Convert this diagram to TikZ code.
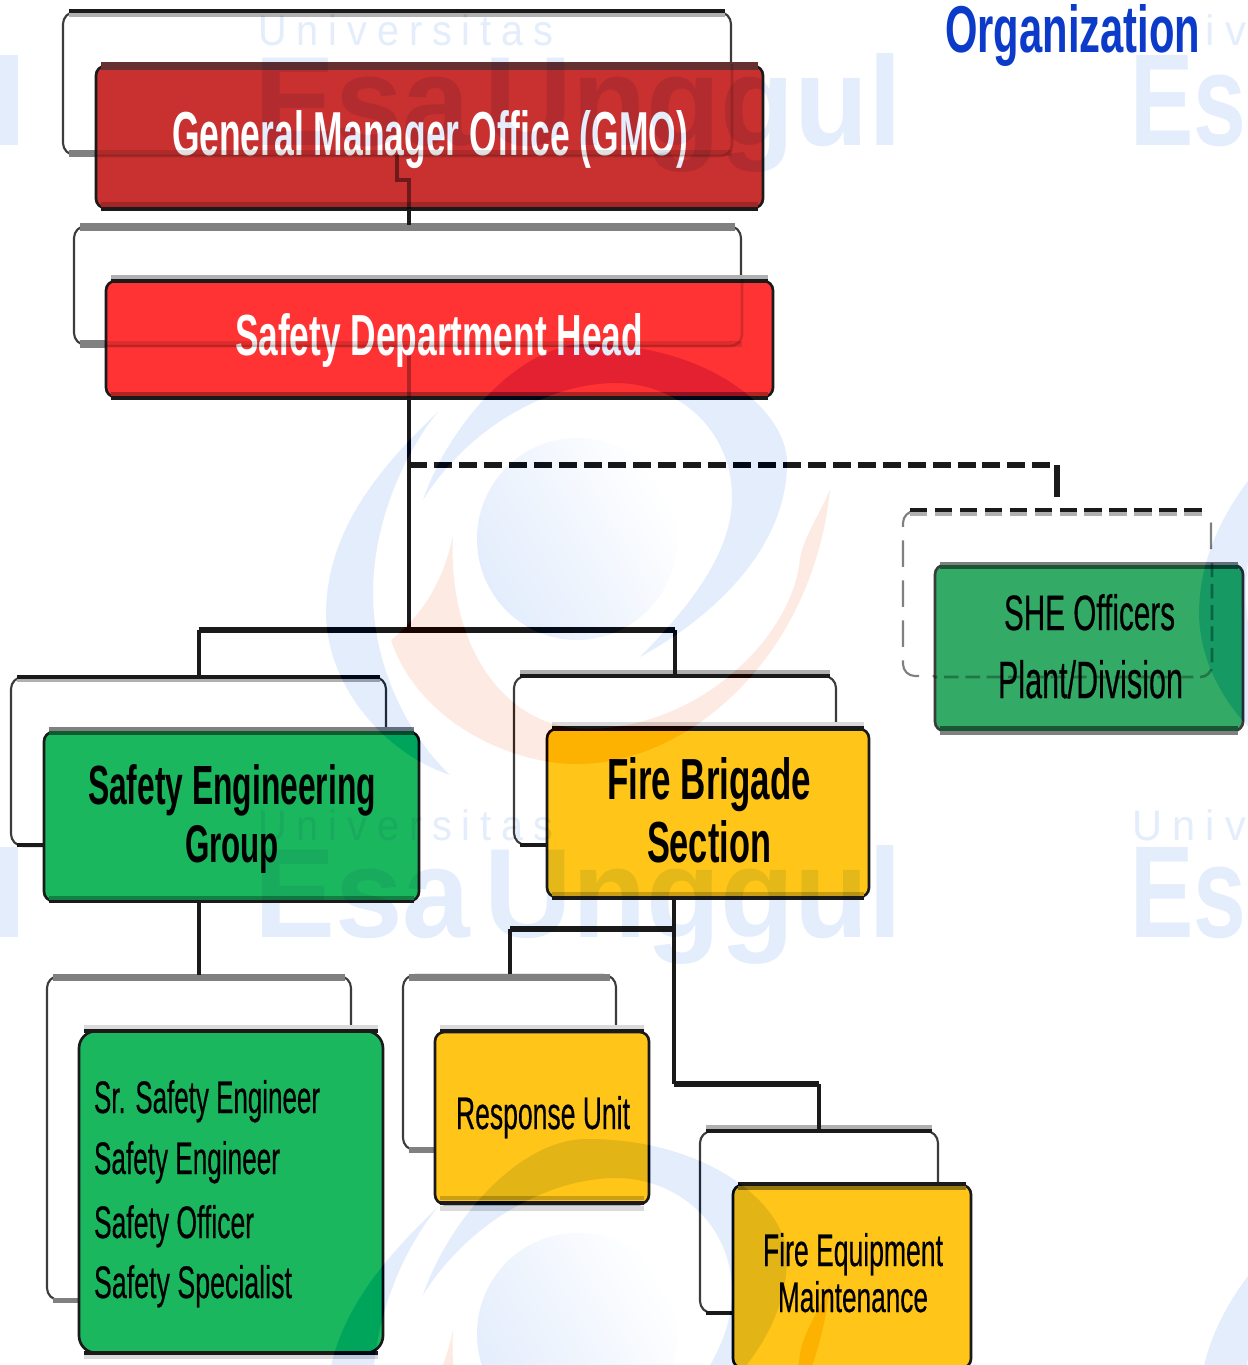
\documentclass[tikz,border=0pt]{standalone}
\usepackage{fontspec}
\usepackage{graphicx}
\setmainfont{Liberation Sans}
\newfontfamily\wmfont[LetterSpace=25]{Liberation Sans}
\newfontfamily\wmheavy{Liberation Sans Bold}
\newfontfamily\semib[FakeBold=0.5]{Liberation Sans}
\newlength\pxu \setlength\pxu{0.75pt}
\newcommand\tx[3]{\resizebox{#1\pxu}{#2\pxu}{#3}}
\newcommand\lbl[5]{\rlap{\hspace*{#1\pxu}\raisebox{-#2\pxu}[0pt][0pt]{\tx{#3}{#4}{#5}}}}
\definecolor{inkc}{HTML}{1A1A1A}
\definecolor{midgray}{HTML}{808080}
\definecolor{softgray}{HTML}{B0B0B0}
\definecolor{palegray}{HTML}{DADADA}
\definecolor{wmblue}{HTML}{E3EDFC}
\definecolor{wmorange}{HTML}{FDEAE2}
\definecolor{gmored}{HTML}{C93030}
\definecolor{gmotop}{HTML}{663030}
\definecolor{headred}{HTML}{FF3333}
\definecolor{grpgreen}{HTML}{1BB75F}
\definecolor{sheGreen}{HTML}{33AB66}
\definecolor{amber}{HTML}{FFC619}
\definecolor{titleblue}{HTML}{0B3BC8}
\tikzset{
  sized/.style 2 args={minimum width=#1*\pxu, minimum height=#2*\pxu},
  framebox/.style={draw=inkc!85!white, line width=1.6pt, rounded corners=9pt, fill=white, inner sep=0pt, rectangle},
  dashframe/.style={framebox, draw=midgray, dash pattern=on 20pt off 10pt},
  orgbox/.style={draw=inkc, line width=2pt, rounded corners=7pt, inner sep=0pt, rectangle},
  wire/.style={draw=inkc, line width=3pt, line cap=butt},
  busline/.style={draw=inkc, line width=4.6pt},
  dashwire/.style={draw=inkc, line width=4.6pt, dash pattern=on 13.5pt off 5.2pt},
  ghost/.style={draw=black, line width=2pt, rounded corners=9pt, opacity=.16},
  wmtext/.style={inner sep=0pt, anchor=base west, text=wmblue},
}
% a horizontal band along a named node, at height y
\newcommand\band[4]{%
  \draw[draw=#4, line width=#3*\pxu, shorten >=5pt, shorten <=5pt] (#1.west |- 0,#2) -- (#1.east |- 0,#2);}
\newcommand\wmlogo[3]{%
  \begin{scope}[shift={(#2,#3)}]
    \fill[wmblue] (-154,-39) .. controls (-130,-110) and (-60,-195) .. (10,-195)
      .. controls (130,-195) and (210,-130) .. (210,-76)
      .. controls (210,0) and (150,70) .. (63,118)
      .. controls (120,60) and (155,10) .. (155,-42)
      .. controls (155,-110) and (100,-156) .. (39,-156)
      .. controls (-30,-156) and (-110,-110) .. (-154,-39) -- cycle;
    \fill[wmblue] (-139,-127) .. controls (-210,-60) and (-250,0) .. (-251,74)
      .. controls (-250,150) and (-190,215) .. (-127,236)
      .. controls (-175,190) and (-204,120) .. (-204,54)
      .. controls (-204,-20) and (-170,-90) .. (-139,-127) -- cycle;
    \fill[wmorange] (-124,-4) .. controls (-135,50) and (-160,80) .. (-186,101)
      .. controls (-160,180) and (-70,225) .. (0,225)
      .. controls (110,225) and (235,120) .. (253,-49)
      .. controls (240,-20) and (226,0) .. (223,20)
      .. controls (215,100) and (120,190) .. (10,190)
      .. controls (-70,190) and (-130,110) .. (-124,-4) -- cycle;
    \shade[shading=axis, left color=wmblue, right color=white, shading angle=120]
      (0,0) ellipse (100 and 101);
  \end{scope}}
\newcommand\wmarks{%
  \fill[wmblue] (0,55) rectangle (18,145);
  \fill[wmblue] (0,847) rectangle (18,937);
  \wmlogo{1}{577}{539}
  \wmlogo{2}{577}{1334}
  \wmlogo{3}{1450}{539}
  \wmlogo{4}{1450}{1334}}
\begin{document}
\begin{tikzpicture}[x=0.75pt,y=-0.75pt]
\useasboundingbox (0,0) rectangle (1248,1365);
\fill[white] (0,0) rectangle (1248,1365);

% frames
\node[framebox, sized={668}{143}] (f1) at (397,83.5) {};
\node[framebox, sized={667}{119}] (f2) at (407.5,285.5) {};
\node[framebox, sized={375}{169}] (f3) at (198.5,761.5) {};
\node[framebox, sized={322}{169}] (f4) at (675,760.5) {};
\node[framebox, sized={304}{324}] (f5) at (199,1138) {};
\node[framebox, sized={213}{175}] (f6) at (509.5,1062.5) {};
\node[framebox, sized={238}{182}] (f7) at (819,1222) {};
\node[dashframe, sized={308}{165}] (f8) at (1057,593.5) {};
\band{f1}{15}{4}{softgray}\band{f1}{11}{3.5}{inkc}\band{f1}{153}{7}{midgray}
\band{f2}{227}{8}{midgray}\band{f2}{344}{8}{midgray}
\band{f3}{680}{4}{softgray}\band{f3}{677}{3.5}{inkc}\band{f3}{845}{3.5}{inkc}
\band{f4}{672}{4}{softgray}\band{f4}{676}{4}{inkc}\band{f4}{845}{3.5}{inkc}
\band{f5}{977}{7}{midgray}\band{f5}{1300}{5}{midgray}
\band{f6}{977}{7}{midgray}\band{f6}{1150}{6}{midgray}
\band{f7}{1127}{4}{softgray}\band{f7}{1131}{4}{inkc}\band{f7}{1313}{3.5}{inkc}
\draw[white, line width=5pt, shorten >=6pt, shorten <=6pt] (f8.north west) -- (f8.north east);
\draw[softgray, line width=5*\pxu, dash pattern=on 13pt off 5.7pt, shorten >=6pt, shorten <=6pt] ([yshift=-3pt]f8.north west) -- ([yshift=-3pt]f8.north east);
\draw[inkc, line width=4*\pxu, dash pattern=on 13pt off 5.7pt, shorten >=6pt, shorten <=6pt] (f8.north west) -- (f8.north east);

% connector points
\coordinate (j1) at (409,630);
\coordinate (j2) at (409,465);
\coordinate (d1) at (1057,497);
\coordinate (j3) at (674,929);
\coordinate (j4) at (674,1084);
\coordinate (s1) at (409,180);
\coordinate (s2) at (397,180);
\coordinate (s3) at (397,155);
\coordinate (s4) at (409,355);

% boxes
\node[orgbox, fill=gmored, sized={667}{142}, font=\bfseries, text=white] (b1) at (429.5,137)
  {\lbl{-257.5}{18}{516}{45}{General Manager Office (GMO)}};
\node[orgbox, fill=headred, sized={667}{116}, font=\bfseries, text=white] (b2) at (439.5,339)
  {\lbl{-204.5}{16}{408}{42}{Safety Department Head}};
\node[orgbox, fill=grpgreen, sized={375}{169}, font=\bfseries, text=black] (b3) at (231.5,816.5)
  {\lbl{-143.5}{-12.5}{288}{40}{Safety Engineering}\lbl{-46.5}{45.5}{94}{37}{Group}};
\node[orgbox, fill=amber, sized={322}{168}, font=\bfseries, text=black] (b4) at (708,813)
  {\lbl{-101}{-14}{204}{42}{Fire Brigade}\lbl{-61}{49}{124}{42}{Section}};
\node[orgbox, fill=grpgreen, sized={304}{322}, rounded corners=13pt, font=\semib, text=black] (b5) at (231,1192)
  {\lbl{-137}{-79}{226}{33}{Sr. Safety Engineer}\lbl{-137}{-18}{186}{33}{Safety Engineer}\lbl{-137}{46}{160}{33}{Safety Officer}\lbl{-137}{106}{198}{33}{Safety Specialist}};
\node[orgbox, fill=amber, sized={214}{172}, font=\semib, text=black] (b6) at (542,1118)
  {\lbl{-86}{11}{174}{33}{Response Unit}};
\node[orgbox, fill=amber, sized={238}{183}, font=\semib, text=black] (b7) at (852,1276.5)
  {\lbl{-89}{-10.5}{180}{33}{Fire Equipment}\lbl{-74}{35.5}{150}{31}{Maintenance}};
\node[orgbox, fill=sheGreen, draw=inkc!85!white, sized={308}{166}, font=\semib, text=black] (b8) at (1089,648)
  {\lbl{-85}{-18}{171}{36}{SHE Officers}\lbl{-91}{50}{185}{38}{Plant/Division}};

% box edges
\band{b1}{66}{8}{gmotop}\band{b1}{204.5}{5}{gmored!80!black}\band{b1}{209}{4}{inkc}
\band{b2}{277}{4}{softgray}\band{b2}{281}{4}{inkc}\band{b2}{393.5}{4}{headred!70!black}\band{b2}{398}{4}{inkc}
\band{b3}{729}{4}{midgray}\band{b3}{733}{4}{grpgreen!50!black}\band{b3}{898}{4}{grpgreen!70!black}\band{b3}{901.5}{3.5}{inkc}
\band{b4}{724}{4}{palegray}\band{b4}{728.5}{5}{inkc}\band{b4}{894}{4}{amber!80!black}\band{b4}{898}{4}{inkc}
\band{b5}{1027}{4}{palegray}\band{b5}{1031}{4}{inkc}\band{b5}{1353}{4}{inkc}\band{b5}{1357}{3.5}{palegray}
\band{b6}{1027}{4}{palegray}\band{b6}{1031}{4}{inkc}\band{b6}{1198}{3.5}{amber!80!black}\band{b6}{1203}{4}{inkc}\band{b6}{1208}{5}{palegray}
\band{b7}{1184}{4}{inkc}\band{b7}{1188}{4}{amber!60!black}
\band{b8}{563.5}{3.5}{midgray}\band{b8}{567}{4}{sheGreen!50!black}\band{b8}{728.5}{5}{sheGreen!50!black}\band{b8}{733}{4}{midgray}

% wires between nodes
\draw[wire] (j1 |- f2.north) -- (j1 |- b1.south);
\draw[wire] (j1 |- b2.south) -- (j1);
\draw[busline, line cap=square] (f3.north |- j1) -- (f4.north |- j1);
\draw[wire] (f3.north |- j1) -- (f3.north);
\draw[wire] (f4.north |- j1) -- (f4.north);
\draw[dashwire] (j2) -- (d1 |- j2);
\draw[wire, line width=4pt] (d1 |- j2) -- (d1);
\draw[wire] (f5.north |- b3.south) -- (f5.north);
\draw[wire] (j3 |- b4.south) -- (j4);
\draw[busline, line cap=square] (j3) -- (f6.north |- j3);
\draw[wire] (f6.north |- j3) -- (f6.north);
\draw[busline, line cap=square] (j4) -- (f7.north |- j4);
\draw[wire] (f7.north |- j4) -- (f7.north);

% lines of frames and wires showing through the boxes
\begin{scope}
  \clip (b1.south west) rectangle (b1.north east);
  \draw[ghost] (f1.north west) rectangle (f1.south east);
  \draw[ghost, line width=5pt, rounded corners=0pt, opacity=.12] (f1.west |- 0,153) -- (f1.east |- 0,153);
\end{scope}
\begin{scope}
  \clip (b2.south west) rectangle (b2.north east);
  \draw[ghost] (f2.north west) rectangle (f2.south east);
  \draw[ghost, line width=5pt, rounded corners=0pt, opacity=.12] (f2.west |- 0,344) -- (f2.east |- 0,344);
\end{scope}
\draw[ghost, opacity=.45, rounded corners=0pt, line width=3pt] (j1 |- b1.south) -- (s1) -- (s2) -- (s3);
\draw[ghost, opacity=.3, rounded corners=0pt, line width=3pt] (j1 |- b2.south) -- (s4);
\begin{scope}
  \clip (b8.south west) rectangle (b8.north east);
  \draw[ghost, opacity=.3, dash pattern=on 11pt off 5pt] (f8.north west) rectangle (f8.south east);
\end{scope}

% watermark: burn first, so that strong colours darken as in the reference
\begin{scope}[blend mode=color burn]
  \wmarks
\end{scope}
\begin{scope}[blend mode=multiply]
  \wmarks
  \node[wmtext, font=\wmfont] (wa) at (258,45) {\tx{295}{31}{Universitas}};
  \node[wmtext, font=\wmheavy] (wb) at (254,145) {\tx{648}{92}{Esa\kern-.16em\ Unggul}};
  \node[wmtext, font=\wmfont] (wc) at (258,840) {\tx{295}{31}{Universitas}};
  \node[wmtext, font=\wmheavy] (wd) at (254,937) {\tx{648}{92}{Esa\kern-.16em\ Unggul}};
  \node[wmtext, font=\wmfont] (we) at (1132,840) {\tx{114}{31}{Univ}};
  \node[wmtext, font=\wmheavy] (wf) at (1130,145) {\tx{116}{90}{Es}};
  \node[wmtext, font=\wmheavy] (wg) at (1130,937) {\tx{116}{90}{Es}};
  \node[wmtext, font=\wmfont] (wh) at (1205,45) {\tx{41}{31}{iv}};
\end{scope}

% title
\node[inner sep=0pt, anchor=base west, text=titleblue, font=\bfseries] (title) at (945,52)
  {\tx{255}{48}{Organization}};
\end{tikzpicture}
\end{document}
